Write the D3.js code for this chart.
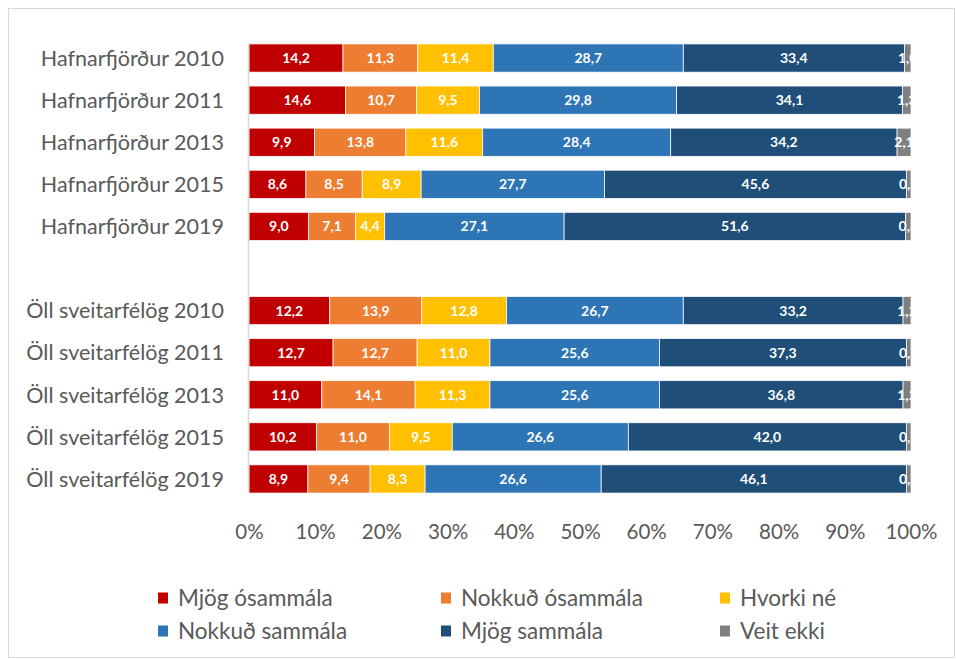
<!DOCTYPE html>
<html>
<head>
<meta charset="utf-8">
<script src="https://d3js.org/d3.v7.min.js"></script>
<style>
  body { margin: 0; background: #fff; }
  text { font-family: Lato, "Open Sans", sans-serif; }
</style>
</head>
<body>
<script>
// data
var categories = ["Hafnarfjörður 2010", "Hafnarfjörður 2011", "Hafnarfjörður 2013", "Hafnarfjörður 2015", "Hafnarfjörður 2019",
  "", "Öll sveitarfélög 2010", "Öll sveitarfélög 2011", "Öll sveitarfélög 2013", "Öll sveitarfélög 2015", "Öll sveitarfélög 2019"];
var seriesNames = ["Mjög ósammála", "Nokkuð ósammála", "Hvorki né", "Nokkuð sammála", "Mjög sammála", "Veit ekki"];
var colors = ["#C00000", "#ED7D31", "#FFC000", "#2E75B6", "#1F4E79", "#7F7F7F"];
var mjogOsammala   = [14.2, 14.6, 9.9, 8.6, 9.0, null, 12.2, 12.7, 11.0, 10.2, 8.9];
var nokkudOsammala = [11.3, 10.7, 13.8, 8.5, 7.1, null, 13.9, 12.7, 14.1, 11.0, 9.4];
var hvorkiNe       = [11.4, 9.5, 11.6, 8.9, 4.4, null, 12.8, 11.0, 11.3, 9.5, 8.3];
var nokkudSammala  = [28.7, 29.8, 28.4, 27.7, 27.1, null, 26.7, 25.6, 25.6, 26.6, 26.6];
var mjogSammala    = [33.4, 34.1, 34.2, 45.6, 51.6, null, 33.2, 37.3, 36.8, 42.0, 46.1];
var veitEkki       = [1.0, 1.3, 2.1, 0.7, 0.8, null, 1.2, 0.7, 1.2, 0.7, 0.7];
var xTicks = [0, 10, 20, 30, 40, 50, 60, 70, 80, 90, 100];

var series = [mjogOsammala, nokkudOsammala, hvorkiNe, nokkudSammala, mjogSammala, veitEkki];

var W = 956, H = 659;
var svg = d3.select("body").append("svg").attr("width", W).attr("height", H);

// chart border
svg.append("rect").attr("x", 8.5).attr("y", 8.5).attr("width", W - 10).attr("height", H - 10)
  .attr("fill", "#fff").attr("stroke", "#d9d9d9").attr("stroke-width", 1);

var plotLeft = 249, plotRight = 911, plotTop = 37, plotBottom = 500;

var x = d3.scaleLinear().domain([0, 100]).range([plotLeft, plotRight]);
var y = d3.scaleBand().domain(d3.range(categories.length)).range([plotTop, plotBottom]).paddingInner(0.33).paddingOuter(0.165);

svg.append("defs").append("clipPath").attr("id", "plotclip")
  .append("rect").attr("x", plotLeft).attr("y", 0).attr("width", plotRight - plotLeft).attr("height", H);

// build stacked rows
var rows = categories.map(function(c, i) {
  var total = 0;
  series.forEach(function(s) { total += s[i] || 0; });
  var acc = 0;
  var segs = [];
  series.forEach(function(s, k) {
    if (s[i] == null) return;
    var v = s[i] / total * 100;
    segs.push({k: k, v: s[i], x0: acc, x1: acc + v, i: i});
    acc += v;
  });
  return {i: i, segs: segs};
});

var rowG = svg.append("g").selectAll("g.row").data(rows).enter().append("g").attr("class", "row");

rowG.selectAll("rect").data(function(d) { return d.segs; })
  .enter().append("rect")
  .attr("x", function(d) { return x(d.x0); })
  .attr("width", function(d) { return x(d.x1) - x(d.x0); })
  .attr("y", function(d) { return y(d.i); })
  .attr("height", y.bandwidth())
  .attr("fill", function(d) { return colors[d.k]; })
  .attr("stroke", "#fff").attr("stroke-width", 0.75);

var labG = svg.append("g").attr("clip-path", "url(#plotclip)");
rows.forEach(function(r) {
  labG.selectAll(null).data(r.segs).enter().append("text")
    .attr("x", function(d) { return (x(d.x0) + x(d.x1)) / 2; })
    .attr("y", y(r.i) + y.bandwidth() / 2)
    .attr("dy", "0.36em")
    .attr("text-anchor", "middle")
    .attr("fill", "#fff")
    .attr("font-weight", "bold")
    .attr("font-size", "14px")
    .text(function(d) { return d.v.toFixed(1).replace(".", ","); });
});

// vertical axis line
svg.append("line").attr("x1", plotLeft - 0.5).attr("x2", plotLeft - 0.5).attr("y1", plotTop + 6).attr("y2", plotBottom - 8)
  .attr("stroke", "#d9d9d9").attr("stroke-width", 1.5);

// category labels
svg.append("g").selectAll("text").data(categories).enter().append("text")
  .attr("x", 224)
  .attr("y", function(d, i) { return y(i) + y.bandwidth() / 2; })
  .attr("dy", "0.36em")
  .attr("text-anchor", "end")
  .attr("fill", "#595959")
  .attr("font-size", "21.5px")
  .text(function(d) { return d; });

// x axis
var xAxis = svg.append("g").attr("transform", "translate(0," + (plotBottom + 32) + ")")
  .call(d3.axisBottom(x).tickValues(xTicks).tickSize(0).tickFormat(function(d) { return d + "%"; }));
xAxis.select(".domain").remove();
xAxis.selectAll("text").attr("fill", "#595959").attr("font-size", "20.5px")
  .attr("font-family", "Lato, 'Open Sans', sans-serif").attr("dy", "0.35em").attr("y", 0);

// legend
var legX = [158, 441, 720];
var legY = [598, 631];
var leg = svg.append("g").selectAll("g").data(seriesNames).enter().append("g")
  .attr("transform", function(d, i) { return "translate(" + legX[i % 3] + "," + legY[Math.floor(i / 3)] + ")"; });
leg.append("rect").attr("x", 0).attr("y", -5.5).attr("width", 10).attr("height", 11)
  .attr("fill", function(d, i) { return colors[i]; });
leg.append("text").attr("x", 20).attr("y", 0).attr("dy", "0.36em")
  .attr("fill", "#595959").attr("font-size", "22.5px")
  .text(function(d) { return d; });
</script>
</body>
</html>
